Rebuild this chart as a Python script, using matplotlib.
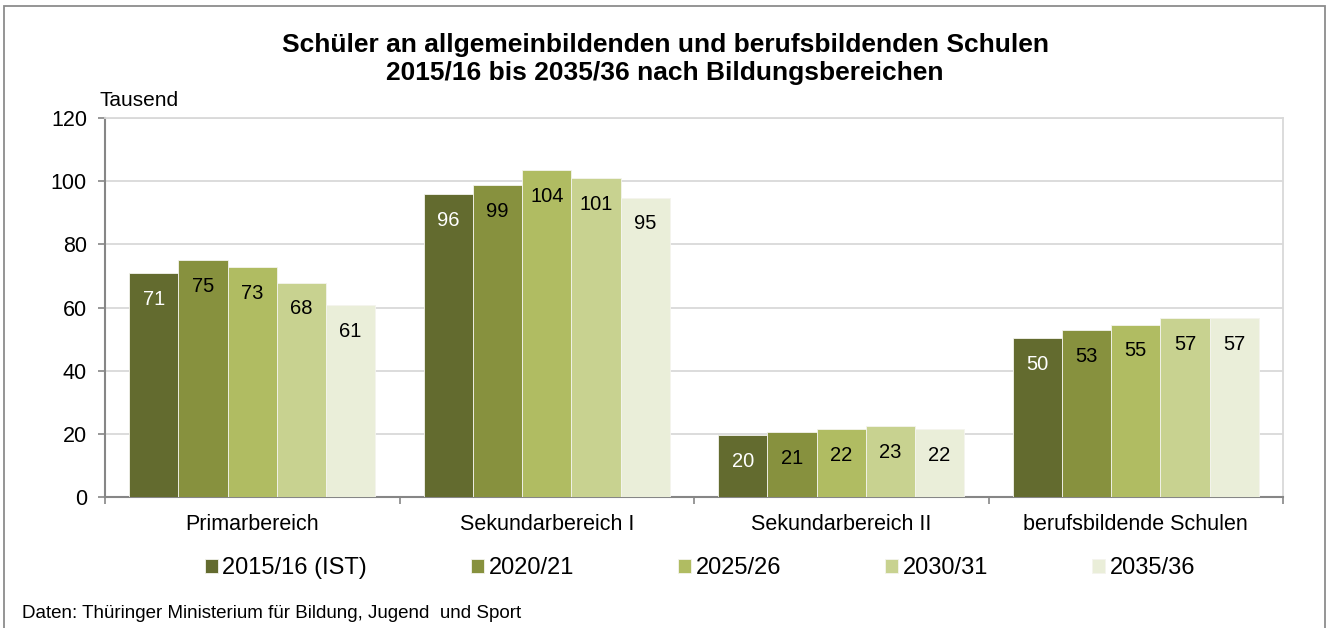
import numpy as np
import matplotlib.pyplot as plt
from matplotlib.patches import Rectangle

plt.rcParams['font.family'] = ['Liberation Sans', 'DejaVu Sans']

# Data (Tausend Schüler)
categories = ["Primarbereich", "Sekundarbereich I", "Sekundarbereich II", "berufsbildende Schulen"]
series_names = ["2015/16 (IST)", "2020/21", "2025/26", "2030/31", "2035/36"]
v_2015 = [71.0, 96.0, 19.6, 50.2]
v_2020 = [74.9, 98.9, 20.6, 52.8]
v_2025 = [72.9, 103.6, 21.6, 54.6]
v_2030 = [67.9, 101.0, 22.6, 56.6]
v_2035 = [60.9, 94.8, 21.6, 56.6]
series_values = [v_2015, v_2020, v_2025, v_2030, v_2035]
colors = ["#636b2f", "#87913e", "#b0bc62", "#c8d290", "#eaeed9"]
label_colors = ["white", "black", "black", "black", "black"]

fig = plt.figure(figsize=(13.3, 6.28), dpi=100)
ax = fig.add_axes([105 / 1330, 1 - 497 / 628, (1283 - 105) / 1330, (497 - 118) / 628])

x = np.arange(len(categories)) + 0.5
bw = 0.167
handles = []
for i, (vals, c) in enumerate(zip(series_values, colors)):
    pos = x + (i - 2) * bw
    bars = ax.bar(pos, vals, width=bw, color=c, edgecolor="#f4f4ee", linewidth=0.6,
                  label=series_names[i], zorder=3)
    handles.append(bars)
    for p, v in zip(pos, vals):
        ax.annotate(f"{round(v)}", (p, v), xytext=(0, -19), textcoords="offset points",
                    ha="center", va="center", fontsize=14.5, color=label_colors[i], zorder=4)

ax.set_xlim(0, 4)
ax.set_ylim(0, 120)
ax.set_yticks(range(0, 121, 20))
ax.yaxis.grid(True, color="#d9d9d9", linewidth=1.3, zorder=0)
ax.set_axisbelow(True)

ax.set_xticks([0, 1, 2, 3, 4])
ax.set_xticklabels([])
ax.set_xticks(x, minor=True)
ax.set_xticklabels(categories, minor=True, fontsize=15.5)
ax.tick_params(axis="x", which="minor", length=0, pad=12)
ax.tick_params(axis="x", which="major", length=5, color="#868686", width=1.2)
ax.tick_params(axis="y", length=5, color="#868686", width=1.2, pad=8, labelsize=15.5)

for s in ["left", "bottom"]:
    ax.spines[s].set_color("#868686")
    ax.spines[s].set_linewidth(1.5)
for s in ["top", "right"]:
    ax.spines[s].set_color("#d9d9d9")
    ax.spines[s].set_linewidth(1.3)

fig.text(99 / 1330, 1 - 100 / 628, "Tausend", ha="left", va="center", fontsize=15)
fig.text(665 / 1330, 1 - 59 / 628,
         "Schüler an allgemeinbildenden und berufsbildenden Schulen\n2015/16 bis 2035/36 nach Bildungsbereichen",
         ha="center", va="center", fontsize=19, fontweight="bold", linespacing=1.25)

fig.legend(handles=handles, labels=series_names, loc="center", ncol=5,
           bbox_to_anchor=(700 / 1330, 1 - 568 / 628), frameon=False, fontsize=17,
           handlelength=0.55, handleheight=0.55, handletextpad=0.2, columnspacing=4.4)

fig.text(22 / 1330, 1 - 614 / 628, "Daten: Thüringer Ministerium für Bildung, Jugend  und Sport",
         ha="left", va="center", fontsize=13.5)

fig.patches.append(Rectangle((4 / 1330, -0.05), (1325 - 4) / 1330, 1.05 - 6 / 628,
                             transform=fig.transFigure, fill=False, edgecolor="#8c8c8c",
                             linewidth=1.3))

fig.savefig("out.png", dpi=100)
